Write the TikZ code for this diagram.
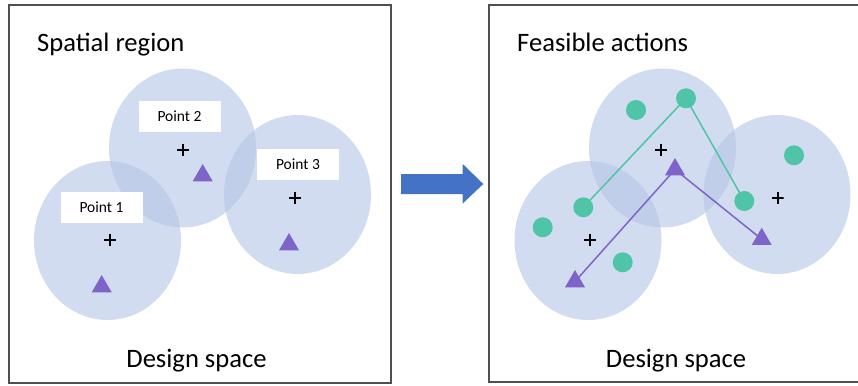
\documentclass[tikz,border=0pt]{standalone}
\usepackage{fontspec}
\setmainfont{Carlito}
\usetikzlibrary{shapes.geometric}
\pgfdeclarelayer{bg}
\pgfdeclarelayer{mid}
\pgfsetlayers{bg,mid,main}
\definecolor{regionblue}{RGB}{180,197,230}
\definecolor{tripurple}{RGB}{126,100,200}
\definecolor{dotgreen}{RGB}{80,196,166}
\definecolor{arrowblue}{RGB}{68,114,196}
\definecolor{framegray}{RGB}{80,80,80}
\tikzset{
  panel/.style={draw=framegray, line width=1.8pt},
  region/.style={ellipse, fill=regionblue, fill opacity=0.6, minimum width=147pt, minimum height=159pt, inner sep=0pt},
  ptlabel/.style={fill=white, minimum width=82pt, minimum height=31pt, inner sep=0pt, font=\fontsize{15.5}{18}\selectfont},
  bigtext/.style={inner sep=0pt, font=\fontsize{26.6}{30}\selectfont},
  plusmark/.style={minimum size=12pt, inner sep=0pt, path picture={
      \draw[line width=1.7pt] (path picture bounding box.north) -- (path picture bounding box.south)
        (path picture bounding box.west) -- (path picture bounding box.east);}},
  tri/.style={regular polygon, regular polygon sides=3, fill=tripurple, minimum size=23pt, inner sep=0pt},
  dot/.style={circle, fill=dotgreen, minimum size=20pt, inner sep=0pt},
  greenline/.style={draw=dotgreen, line width=1.5pt},
  purpleline/.style={draw=tripurple, line width=1.5pt},
}
\begin{document}
\begin{tikzpicture}[x=1pt, y=-1pt]
\useasboundingbox (0,0) rectangle (858,385);
% panels
\draw[panel] (9,5) rectangle (391,383);
\draw[panel] (489,5) rectangle (862,382);
% block arrow
\fill[arrowblue] (401,174) -- (462.7,174) -- (462.7,164) -- (483.3,184) -- (462.7,203.5) -- (462.7,194) -- (401,194) -- cycle;
% titles
\node[bigtext, anchor=base west] (t1) at (37,52) {Spatial region};
\node[bigtext, anchor=base] (d1) at (196.5,367) {Design space};
\node[bigtext, anchor=base west] (t2) at (517,52) {Feasible actions};
\node[bigtext, anchor=base] (d2) at (676,367) {Design space};
% regions
\begin{pgfonlayer}{bg}
\node[region] (c1) at (107.5,240.5) {};
\node[region] (c2) at (182.5,148) {};
\node[region] (c3) at (297.5,194.5) {};
\node[region] (ra) at (588,240.5) {};
\node[region] (rb) at (662.5,148) {};
\node[region] (rc) at (777,194.5) {};
\end{pgfonlayer}
% left panel content
\node[ptlabel] (l2) at (179.5,116.5) {Point 2};
\node[ptlabel] (l3) at (298,164.5) {Point 3};
\node[ptlabel] (l1) at (101.5,207) {Point 1};
\node[plusmark] (p2) at (183,150) {};
\node[plusmark] (p3) at (295,198) {};
\node[plusmark] (p1) at (110,240) {};
\node[tri] (s1) at (101.7,286.5) {};
\node[tri] (s2) at (202.7,175.5) {};
\node[tri] (s3) at (289,244.5) {};
% right panel content
\node[plusmark] (pb) at (661,150) {};
\node[plusmark] (pa) at (590,240) {};
\node[plusmark] (pc) at (777.7,198) {};
\node[dot] (gb1) at (636,110) {};
\node[dot] (gb2) at (686,98.3) {};
\node[dot] (ga1) at (583.3,207.3) {};
\node[dot] (ga2) at (542.7,227.3) {};
\node[dot] (ga3) at (622.7,262.3) {};
\node[dot] (gc1) at (744.3,201) {};
\node[dot] (gc2) at (794,155.3) {};
\node[tri] (ta) at (575,281.5) {};
\node[tri] (tb) at (675,169.5) {};
\node[tri] (tc) at (761.7,239.2) {};
\begin{pgfonlayer}{mid}
\draw[greenline] (ga1.center) -- (gb2.center) -- (gc1.center);
\draw[purpleline] (ta.center) -- (tb.center) -- (tc.center);
\end{pgfonlayer}
\end{tikzpicture}
\end{document}
